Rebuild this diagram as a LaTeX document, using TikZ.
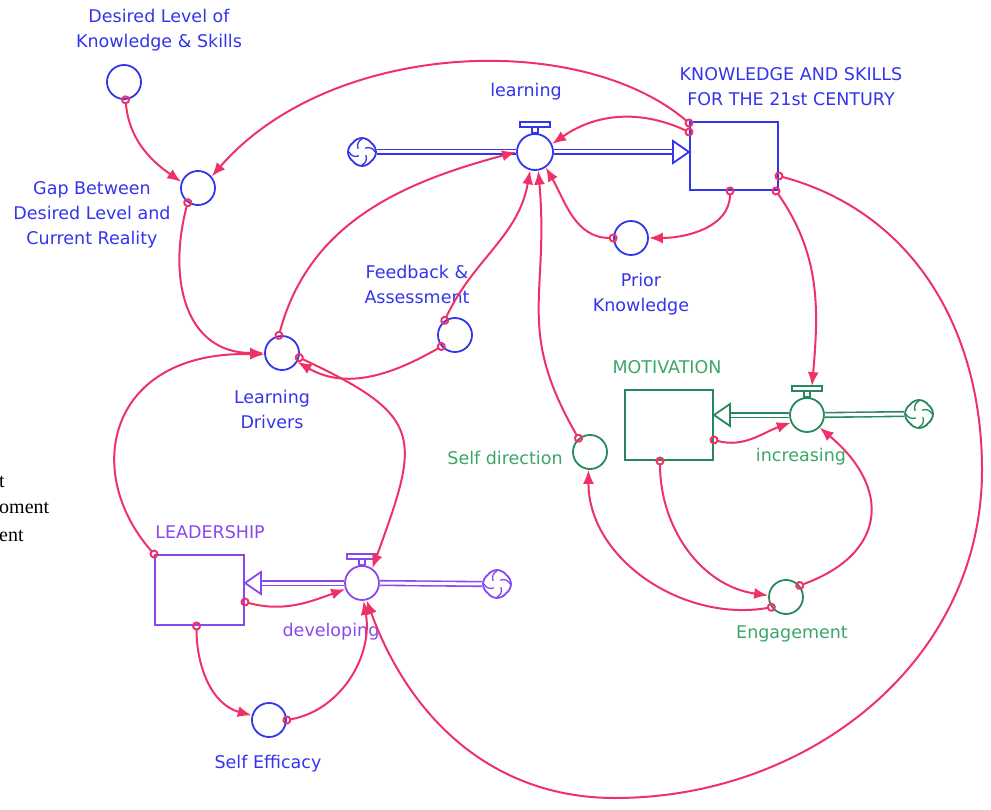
\documentclass[tikz,border=0pt]{standalone}
\usepackage{fontspec}
\setmainfont{DejaVu Sans}
\newfontfamily\strayfont{Liberation Serif}
\usepackage{tikz}
\usetikzlibrary{arrows.meta,positioning,shapes.symbols}

\definecolor{kblue}{RGB}{52,52,236}
\definecolor{linkred}{RGB}{238,50,104}
\definecolor{mgreen}{RGB}{38,136,92}
\definecolor{mgreenlbl}{RGB}{58,166,104}
\definecolor{lpurple}{RGB}{136,72,238}

\tikzset{
  aux/.style={circle,draw,line width=1.8pt,minimum size=34pt,inner sep=0pt},
  valve/.style={circle,draw,line width=1.8pt,minimum size=36pt,inner sep=0pt},
  stock/.style={rectangle,draw,line width=2pt,inner sep=0pt},
  lbl/.style={font=\fontsize{17.5}{25}\selectfont,align=center,inner sep=0pt},
  stray/.style={font=\strayfont\fontsize{20}{26}\selectfont,inner sep=0pt,anchor=base west},
  link/.style={draw=linkred,line width=2pt,
    {Circle[open,length=9pt,width=9pt]}-{Latex[length=14pt,width=11pt]},shorten <=-4.5pt},
  pipe/.style={double=white,double distance=3pt,line width=1.6pt},
  source/.style={cloud,cloud puffs=4,cloud puff arc=110,aspect=1,draw,
    line width=1.8pt,minimum size=28pt,inner sep=0pt},
}

\begin{document}
\begin{tikzpicture}[x=1pt,y=1pt]
  \useasboundingbox (0,0) rectangle (991,-810);

  % knowledge sector
  \node[aux,draw=kblue] (desired) at (124,-82) {};
  \node[aux,draw=kblue] (gap) at (198,-188) {};
  \node[valve,draw=kblue] (learn) at (535,-152) {};
  \node[stock,draw=kblue,minimum width=88pt,minimum height=68pt] (know) at (734,-156) {};
  \node[source,draw=kblue] (cloudL) at (362,-152) {};
  \node[aux,draw=kblue] (prior) at (631,-238) {};
  \node[aux,draw=kblue] (fb) at (455,-335) {};
  \node[aux,draw=kblue] (ld) at (282,-353) {};

  % motivation sector
  \node[stock,draw=mgreen,minimum width=88pt,minimum height=70pt] (mot) at (669,-425) {};
  \node[valve,draw=mgreen,minimum size=34pt] (incr) at (807,-415) {};
  \node[source,draw=mgreen] (cloudR) at (919,-414) {};
  \node[aux,draw=mgreen] (selfdir) at (590,-452) {};
  \node[aux,draw=mgreen] (eng) at (786,-597) {};

  % leadership sector
  \node[stock,draw=lpurple,minimum width=89pt,minimum height=70pt] (lead) at (199.5,-590) {};
  \node[valve,draw=lpurple,minimum size=34pt] (dev) at (362,-583) {};
  \node[source,draw=lpurple] (cloudD) at (497,-584) {};
  \node[aux,draw=kblue] (se) at (269,-720) {};

  % valve handles and cloud swirls
  \foreach \v/\c in {learn/kblue,incr/mgreen,dev/lpurple}{
    \draw[\c,line width=1.4pt] ([shift={(-3,0)}]\v.north) rectangle ([shift={(3,6)}]\v.north);
    \draw[\c,line width=1.4pt,fill=white] ([shift={(-15,6)}]\v.north) rectangle ([shift={(15,11)}]\v.north);
  }
  \foreach \s/\c in {cloudL/kblue,cloudR/mgreen,cloudD/lpurple}
    \foreach \a in {0,90,180,270}
      \draw[\c,line width=1.3pt] ([shift={(\a:13)}]\s.center) to[bend right=45] ([shift={(\a+50:5)}]\s.center);

  % pipes
  \draw[kblue,pipe] (cloudL.east) -- (learn.west);
  \draw[kblue,pipe] (learn.east) -- ([xshift=-16pt]learn -| know.west);
  \draw[kblue,line width=1.8pt,fill=white] (learn -| know.west) -- ++(-16,11) -- ++(0,-22) -- cycle;
  \draw[mgreen,pipe] (cloudR.west) -- (incr.east);
  \draw[mgreen,pipe] (incr.west) -- ([xshift=16pt]incr -| mot.east);
  \draw[mgreen,line width=1.8pt,fill=white] (incr -| mot.east) -- ++(16,11) -- ++(0,-22) -- cycle;
  \draw[lpurple,pipe] (cloudD.west) -- (dev.east);
  \draw[lpurple,pipe] (dev.west) -- ([xshift=16pt]dev -| lead.east);
  \draw[lpurple,line width=1.8pt,fill=white] (dev -| lead.east) -- ++(16,11) -- ++(0,-22) -- cycle;

  % labels
  \node[lbl,text=kblue] (desiredlbl) at (159,-30) {Desired Level of\\Knowledge \& Skills};
  \node[lbl,text=kblue] (gaplbl) at (92,-215) {Gap Between\\Desired Level and\\Current Reality};
  \node[lbl,text=kblue] (learnlbl) at (526,-92) {learning};
  \node[lbl,text=kblue] (knowlbl) at (791,-87) {KNOWLEDGE AND SKILLS\\FOR THE 21st CENTURY};
  \node[lbl,text=kblue] (priorlbl) at (641,-294) {Prior\\Knowledge};
  \node[lbl,text=kblue] (fblbl) at (417,-284) {Feedback \&\\Assessment};
  \node[lbl,text=kblue] (ldlbl) at (272,-409) {Learning\\Drivers};
  \node[lbl,text=mgreenlbl] (motlbl) at (667,-367) {MOTIVATION};
  \node[lbl,text=mgreenlbl] (incrlbl) at (801,-457) {increasing};
  \node[lbl,text=mgreenlbl] (sdlbl) at (505,-458) {Self direction};
  \node[lbl,text=mgreenlbl] (englbl) at (792,-634) {Engagement};
  \node[lbl,text=lpurple] (leadlbl) at (210,-532) {LEADERSHIP};
  \node[lbl,text=lpurple] (devlbl) at (331,-632) {developing};
  \node[lbl,text=kblue] (selbl) at (268,-764) {Self Efficacy};

  % cut-off text at the left edge
  \node[stray] (strayA) at (-1,-487) {t};
  \node[stray] (strayB) at (-1,-513) {oment};
  \node[stray] (strayC) at (-1,-541) {ent};

  % links
  \draw[link] (desired.-85) to[out=-85,in=145] (gap.160);
  \draw[link] ([shift={(0,-2)}]know.north west) .. controls (580,-30) and (330,-40) .. (gap.40);
  \draw[link] (gap.-125) to[out=-105,in=180,looseness=1.2] (ld.180);
  \draw[link] (ld.100) to[out=75,in=195] (learn.180);
  \draw[link] (fb.125) to[out=65,in=-100] (learn.-105);
  \draw[link] (selfdir.130) to[out=120,in=-85,looseness=1.2] (learn.-80);
  \draw[link] (prior.180) to[out=180,in=-60] (learn.-55);
  \draw[link] ([shift={(-4,0)}]know.south) to[out=-90,in=0] (prior.0);
  \draw[link] ([shift={(0,-11)}]know.north west) to[out=155,in=35] (learn.25);
  \draw[link] ([shift={(-3,0)}]know.south east) to[out=-55,in=85] ([shift={(5,11)}]incr.north);
  \draw[link] ([shift={(0,15)}]know.south east) to[out=-15,in=90] (982,-470)
    to[out=-90,in=0] (615,-798) to[out=180,in=-70] (dev.-75);
  \draw[link] ([shift={(0,-15)}]mot.east) to[out=-15,in=200] (incr.-155);
  \draw[link] ([shift={(-9,0)}]mot.south) to[out=-90,in=172] (eng.175);
  \draw[link] (eng.40) to[out=20,in=-40,looseness=1.5] (incr.-45);
  \draw[link] (eng.-145) to[out=190,in=-90] (selfdir.-95);
  \draw[link] ([shift={(0,-12)}]lead.east) to[out=-15,in=200] (dev.-160);
  \draw[link] ([shift={(-3,0)}]lead.south) to[out=-90,in=165] (se.165);
  \draw[link] (se.0) to[out=10,in=-80] (dev.-85);
  \draw[link] (lead.north west) .. controls (80,-470) and (110,-350) .. (ld.185);
  \draw[link] (ld.-15) to[out=-25,in=70,looseness=1.6] (dev.55);
  \draw[link] (fb.-140) to[out=210,in=-30] (ld.-30);
\end{tikzpicture}
\end{document}
